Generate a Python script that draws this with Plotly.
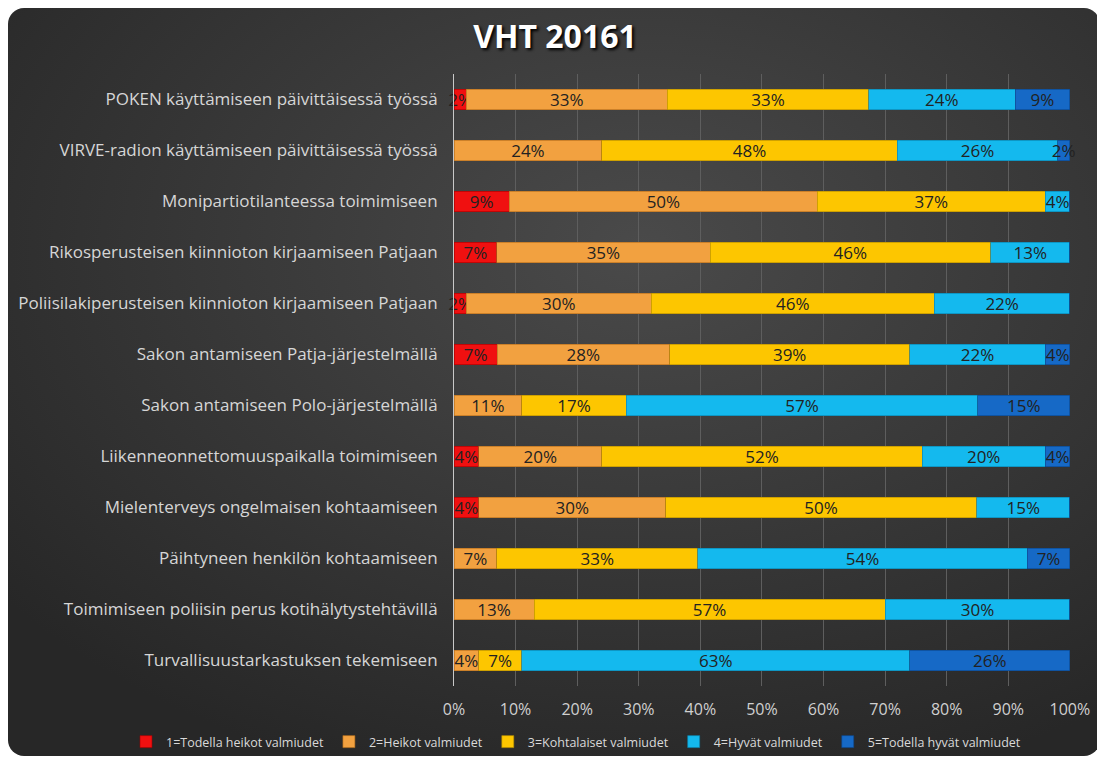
import base64
import plotly.graph_objects as go

categories = [
    "POKEN käyttämiseen päivittäisessä työssä",
    "VIRVE-radion käyttämiseen päivittäisessä työssä",
    "Monipartiotilanteessa toimimiseen",
    "Rikosperusteisen kiinnioton kirjaamiseen Patjaan",
    "Poliisilakiperusteisen kiinnioton kirjaamiseen Patjaan",
    "Sakon antamiseen Patja-järjestelmällä",
    "Sakon antamiseen Polo-järjestelmällä",
    "Liikenneonnettomuuspaikalla toimimiseen",
    "Mielenterveys ongelmaisen kohtaamiseen",
    "Päihtyneen henkilön kohtaamiseen",
    "Toimimiseen poliisin perus kotihälytystehtävillä",
    "Turvallisuustarkastuksen tekemiseen",
]

series_names = [
    "1=Todella heikot valmiudet",
    "2=Heikot valmiudet",
    "3=Kohtalaiset valmiudet",
    "4=Hyvät valmiudet",
    "5=Todella hyvät valmiudet",
]

s1 = [2, 0, 9, 7, 2, 7, 0, 4, 4, 0, 0, 0]
s2 = [33, 24, 50, 35, 30, 28, 11, 20, 30, 7, 13, 4]
s3 = [33, 48, 37, 46, 46, 39, 17, 52, 50, 33, 57, 7]
s4 = [24, 26, 4, 13, 22, 22, 57, 20, 15, 54, 30, 63]
s5 = [9, 2, 0, 0, 0, 4, 15, 4, 0, 7, 0, 26]

tick_vals = [0, 10, 20, 30, 40, 50, 60, 70, 80, 90, 100]
tick_text = [f"{v}%" for v in tick_vals]

colors = ["#f01010", "#f2a140", "#fdc600", "#14b9ee", "#1669c6"]
edge_colors = ["#a00000", "#b06a1a", "#b08800", "#0a7fa8", "#0c4488"]

# page body has an 8px offset; figure sized so it ends at the window edge
W, H = 1097, 750
ML, MR, MT, MB = 446, 35, 66, 72

fig = go.Figure()
for name, vals, c, ec in zip(series_names, [s1, s2, s3, s4, s5], colors, edge_colors):
    fig.add_trace(go.Bar(
        y=categories,
        x=vals,
        name=name,
        orientation="h",
        marker=dict(color=c, line=dict(color=ec, width=0.6)),
        text=[f"{v}%" if v else "" for v in vals],
        textposition="inside",
        insidetextanchor="middle",
        constraintext="none",
        textangle=0,
        textfont=dict(color="#222222", size=17, family="Open Sans"),
        cliponaxis=False,
    ))

svg = f'''<svg xmlns="http://www.w3.org/2000/svg" width="{W}" height="{H}" viewBox="0 0 {W} {H}">
<defs><radialGradient id="g" cx="0.58" cy="0.32" r="0.75">
<stop offset="0" stop-color="#4a4a4a"/><stop offset="1" stop-color="#272727"/></radialGradient></defs>
<rect x="0" y="0" width="{W-5}" height="{H-2}" rx="16" ry="16" fill="url(#g)"/></svg>'''
src = "data:image/svg+xml;base64," + base64.b64encode(svg.encode()).decode()
pw, ph = W - ML - MR, H - MT - MB

fig.update_layout(
    width=W, height=H,
    barmode="stack",
    barnorm="percent",
    bargap=0.59,
    paper_bgcolor="white",
    plot_bgcolor="rgba(0,0,0,0)",
    margin=dict(l=ML, r=MR, t=MT, b=MB, autoexpand=False),
    images=[dict(source=src, xref="paper", yref="paper",
                 x=-ML / pw, y=1 + MT / ph, sizex=W / pw, sizey=H / ph,
                 xanchor="left", yanchor="top", sizing="stretch", layer="below")],
    title=dict(text="<b>VHT 20161</b>", x=547 / W, xanchor="center", y=1 - 29 / H, yanchor="middle",
               font=dict(family="Open Sans", size=32, color="#ffffff", shadow="2px 2px 3px #000000")),
    showlegend=True,
    legend=dict(orientation="h", traceorder="normal", xref="paper", yref="paper",
                x=(118 - ML) / pw, xanchor="left", y=((H - MB) - 734) / ph, yanchor="middle",
                font=dict(family="Open Sans", size=12.5, color="#d9d9d9"),
                itemwidth=30, bgcolor="rgba(0,0,0,0)"),
    xaxis=dict(range=[0, 100.02], tickvals=tick_vals, ticktext=tick_text, showgrid=True,
               gridcolor="#5e5e5e", gridwidth=1, zeroline=False, ticks="", ticklabelstandoff=12,
               tickfont=dict(family="Open Sans", size=16, color="#d0d0d0"), fixedrange=True),
    yaxis=dict(autorange="reversed", showline=True, linecolor="#c8c8c8", linewidth=1,
               ticks="", ticklabelstandoff=12,
               tickfont=dict(family="Open Sans", size=17, color="#d6d6d6")),
)

fig.write_html("out.html")
